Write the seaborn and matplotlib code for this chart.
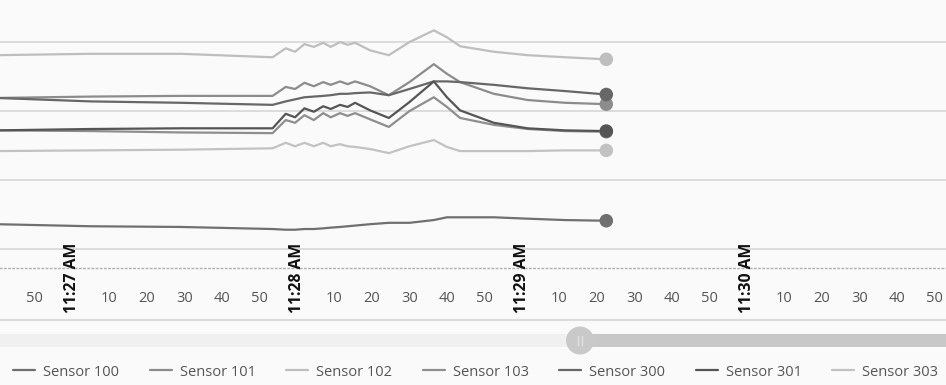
import numpy as np
import pandas as pd
import matplotlib
matplotlib.use("Agg")
import matplotlib.pyplot as plt
import matplotlib.patches as mpatches
import seaborn as sns

# ---- data (seconds after 11:27:00 AM) ----
seconds = [-20, 5, 29, 53.5, 57, 59.5, 62, 64.5, 67, 69, 71.5, 73.5, 75.5,
           79.5, 84.5, 90, 96.5, 100, 103.5, 112.5, 121.5, 131.5, 142.5]

sensor_100 = [3.6, 3.3, 3.2, 2.9, 2.8, 2.8, 2.9, 2.9, 3.0, 3.1, 3.2, 3.3, 3.4,
              3.6, 3.8, 3.8, 4.2, 4.6, 4.6, 4.6, 4.4, 4.2, 4.1]
sensor_101 = [21.9, 22.1, 22.2, 22.2, 23.5, 23.2, 24.1, 23.6, 24.2, 23.8, 24.3, 23.9, 24.3,
              23.6, 22.3, 24.2, 26.8, 25.4, 24.2, 22.5, 21.6, 21.2, 21.0]
sensor_102 = [28.1, 28.3, 28.3, 27.8, 29.1, 28.6, 29.7, 29.3, 29.9, 29.3, 30.0, 29.6, 29.9,
              28.8, 28.1, 30.0, 31.7, 30.7, 29.4, 28.6, 28.1, 27.8, 27.5]
sensor_103 = [17.2, 17.1, 16.9, 16.8, 18.7, 18.3, 19.4, 18.7, 19.7, 19.1, 19.7, 19.3, 19.7,
              18.8, 17.7, 20.0, 22.0, 20.6, 19.0, 18.0, 17.4, 17.1, 17.0]
sensor_300 = [21.9, 21.4, 21.2, 20.9, 21.4, 21.7, 22.0, 22.1, 22.2, 22.3, 22.5, 22.5, 22.6,
              22.7, 22.3, 23.2, 24.3, 24.3, 24.2, 23.8, 23.3, 22.9, 22.4]
sensor_301 = [17.2, 17.4, 17.5, 17.5, 19.6, 19.1, 20.4, 19.9, 20.7, 20.3, 20.9, 20.6, 21.2,
              20.1, 19.0, 21.3, 24.3, 22.0, 20.1, 18.3, 17.5, 17.2, 17.1]
sensor_303 = [14.2, 14.3, 14.4, 14.6, 15.4, 14.9, 15.4, 14.9, 15.4, 14.9, 15.2, 14.9, 14.8,
              14.5, 13.9, 14.9, 15.8, 14.8, 14.2, 14.2, 14.2, 14.3, 14.3]

sensor_names = ["Sensor 100", "Sensor 101", "Sensor 102", "Sensor 103",
                "Sensor 300", "Sensor 301", "Sensor 303"]
sensor_values = [sensor_100, sensor_101, sensor_102, sensor_103,
                 sensor_300, sensor_301, sensor_303]

tick_seconds = list(range(-10, 240, 10))
minute_labels = {0: "11:27 AM", 60: "11:28 AM", 120: "11:29 AM", 180: "11:30 AM"}

palette = {"Sensor 100": "#707070", "Sensor 101": "#8c8c8c", "Sensor 102": "#bebebe",
           "Sensor 103": "#8e8e8e", "Sensor 300": "#676767", "Sensor 301": "#555555",
           "Sensor 303": "#c2c2c2"}

rows = []
for name, vals in zip(sensor_names, sensor_values):
    for s, v in zip(seconds, vals):
        rows.append((name, s, v))
df = pd.DataFrame(rows, columns=["sensor", "seconds", "value"])
last = df[df["seconds"] == seconds[-1]]

sns.set_theme(style="white")
plt.rcParams["font.family"] = ["Open Sans", "DejaVu Sans"]

BG = "#fafafa"
fig = plt.figure(figsize=(9.46, 3.85), dpi=100, facecolor=BG)
ax = fig.add_axes([0, 1 - 268 / 385, 1, 268 / 385])
ax.set_facecolor(BG)

sns.lineplot(data=df, x="seconds", y="value", hue="sensor", hue_order=sensor_names,
             palette=palette, estimator=None, sort=False, linewidth=1.6, ax=ax)
sns.scatterplot(data=last, x="seconds", y="value", hue="sensor", hue_order=sensor_names,
                palette=palette, s=95, edgecolor="none", legend=False, ax=ax, zorder=5)

ax.set_xlim(-19.2, 233.1)
ax.set_ylim(-2.75, 36.1)
ax.set_yticks([0, 10, 20, 30])
ax.set_yticklabels([])
ax.set_xticks([])
ax.grid(axis="y", color="#d6d6d6", linewidth=1.2)
ax.set_xlabel("")
ax.set_ylabel("")
for sp in ["top", "left", "right"]:
    ax.spines[sp].set_visible(False)
ax.spines["bottom"].set_color("#b0b0b0")
ax.spines["bottom"].set_linestyle((0, (1, 2)))
ax.spines["bottom"].set_linewidth(1.0)

trans = matplotlib.transforms.blended_transform_factory(ax.transData, ax.transAxes)
for t in tick_seconds:
    if t in minute_labels:
        ax.text(t, (268 - 313) / 268, minute_labels[t], transform=trans, rotation=90,
                ha="center", va="bottom", fontsize=11.3, fontweight="bold",
                color="#111111", clip_on=False)
    else:
        ax.text(t, (268 - 299) / 268, str(t % 60), transform=trans,
                ha="center", va="center", fontsize=10.5, color="#555555", clip_on=False)

# scrollbar / separator overlay
ov = fig.add_axes([0, 0, 1, 1], facecolor="none")
ov.set_xlim(0, 946)
ov.set_ylim(385, 0)
ov.axis("off")
ov.plot([0, 946], [320, 320], color="#dcdcdc", linewidth=1.5)
ov.add_patch(mpatches.Rectangle((0, 334), 575, 13, color="#f0f0f0", lw=0))
ov.add_patch(mpatches.Rectangle((590, 334), 356, 13, color="#c8c8c8", lw=0))
ov.add_patch(mpatches.Circle((580, 340.5), 14, color="#c9c9c9", lw=0))
ov.plot([578, 578], [336, 345], color="#e2e2e2", linewidth=1)
ov.plot([582, 582], [336, 345], color="#e2e2e2", linewidth=1)

sns.move_legend(ax, "center", bbox_to_anchor=(0.503, 1 - 372 / 385),
                bbox_transform=fig.transFigure, ncol=7, frameon=False, title=None,
                fontsize=10.5, handlelength=1.5, handletextpad=0.55, columnspacing=2.1,
                labelcolor="#555555")

fig.savefig("out.png", dpi=100, facecolor=BG)
